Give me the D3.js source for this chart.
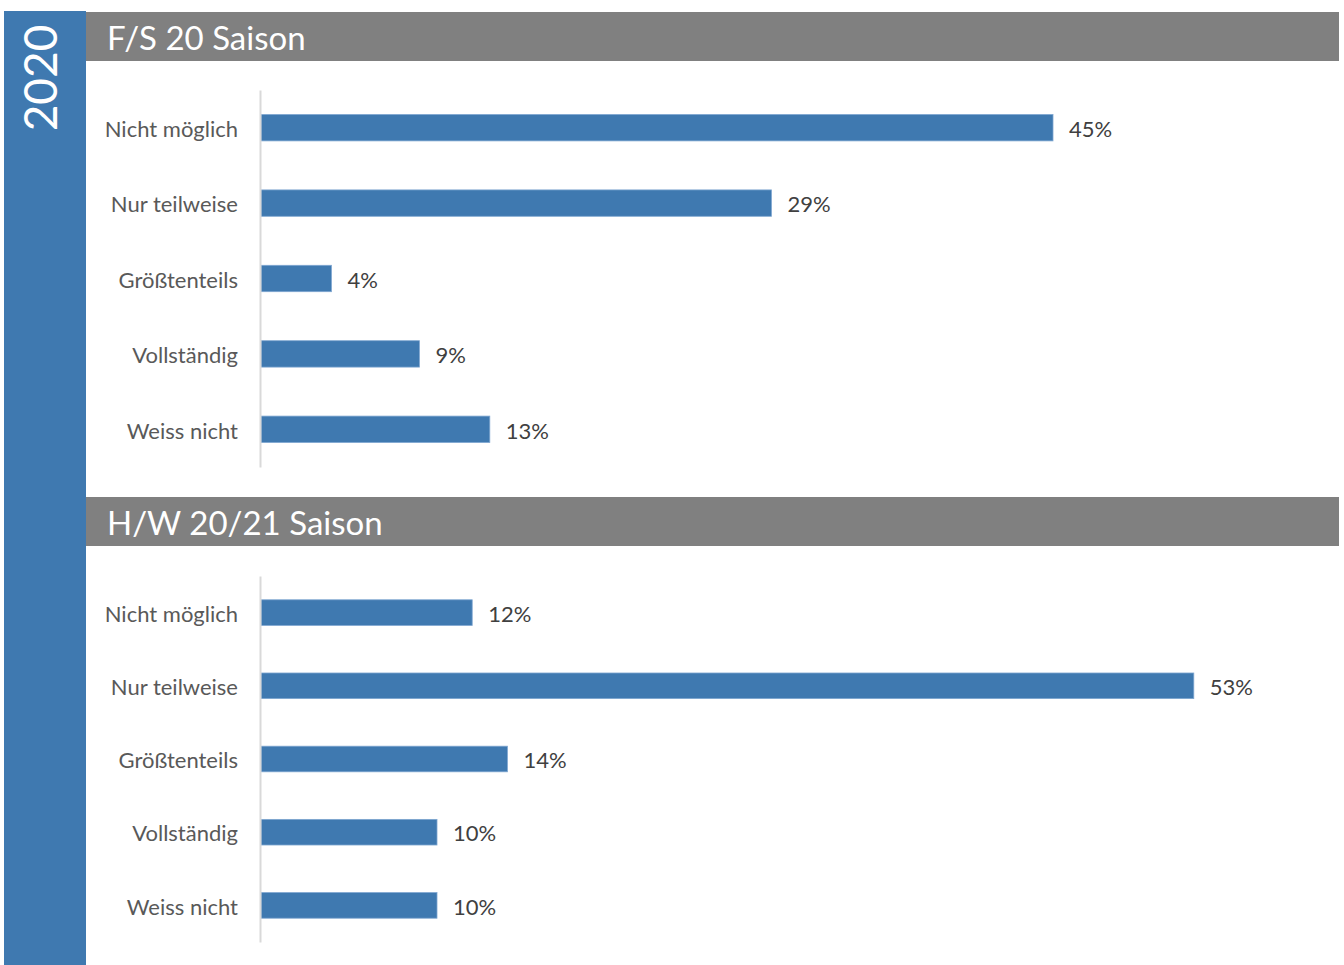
<!DOCTYPE html>
<html>
<head>
<meta charset="utf-8">
<script src="https://cdn.jsdelivr.net/npm/d3@7"></script>
<style>
  html, body { margin: 0; padding: 0; background: #fff; }
  svg { display: block; }
  text { font-family: Lato, "Open Sans", sans-serif; }
</style>
</head>
<body>
<svg id="chart" width="1344" height="965"></svg>
<script>
// Survey answers per season
const categories = ["Nicht möglich", "Nur teilweise", "Größtenteils", "Vollständig", "Weiss nicht"];
const seasonTitles = ["F/S 20 Saison", "H/W 20/21 Saison"];
const valuesFS20 = [45, 29, 4, 9, 13];
const valuesHW2021 = [12, 53, 14, 10, 10];
const yearLabel = "2020";

const svg = d3.select("#chart");
const W = 1344, H = 965;

const blue = "#3f79b0";
const gray = "#808080";

// Left year band
svg.append("rect").attr("x", 4).attr("y", 11).attr("width", 82).attr("height", H - 11).attr("fill", blue);
svg.append("text")
  .attr("transform", "translate(57,78) rotate(-90)")
  .attr("text-anchor", "middle")
  .attr("fill", "#fff")
  .attr("font-size", 46)
  .text(yearLabel);

// Shared value scale
const x = d3.scaleLinear().domain([0, 60]).range([261, 1317]);

const panels = [
  { title: seasonTitles[0], values: valuesFS20, headerY: 12, axisTop: 90, axisBottom: 467 },
  { title: seasonTitles[1], values: valuesHW2021, headerY: 497, axisTop: 576, axisBottom: 942 }
];

panels.forEach(p => {
  const g = svg.append("g");

  // Header strip
  g.append("rect").attr("x", 86).attr("y", p.headerY).attr("width", 1253).attr("height", 49).attr("fill", gray);
  g.append("text")
    .attr("x", 107).attr("y", p.headerY + 38)
    .attr("fill", "#fff")
    .attr("font-size", 33)
    .text(p.title);

  const y = d3.scaleBand()
    .domain(categories)
    .range([p.axisTop, p.axisBottom])
    .paddingInner(0.65)
    .paddingOuter(0.325);

  // Bars
  g.selectAll("rect.bar")
    .data(categories.map((c, i) => ({ c, v: p.values[i] })))
    .join("rect")
    .attr("class", "bar")
    .attr("x", x(0))
    .attr("y", d => y(d.c))
    .attr("width", d => x(d.v) - x(0))
    .attr("height", y.bandwidth())
    .attr("fill", blue)
    .attr("stroke", "#7ea6d0")
    .attr("stroke-width", 0.8);

  // Value labels
  g.selectAll("text.val")
    .data(categories.map((c, i) => ({ c, v: p.values[i] })))
    .join("text")
    .attr("class", "val")
    .attr("x", d => x(d.v) + 16)
    .attr("y", d => y(d.c) + y.bandwidth() / 2)
    .attr("dy", "0.42em")
    .attr("fill", "#404040")
    .attr("font-size", 22)
    .text(d => d.v + "%");

  // Category axis
  const axis = d3.axisLeft(y).tickSize(0).tickPadding(22);
  const ag = g.append("g").attr("transform", `translate(${x(0) - 1},0)`).call(axis);
  ag.select(".domain").attr("stroke", "#d9d9d9").attr("stroke-width", 2);
  ag.selectAll(".tick text")
    .attr("fill", "#595959")
    .attr("font-size", 22)
    .attr("dy", "0.42em")
    .attr("font-family", "Lato, 'Open Sans', sans-serif");
});
</script>
</body>
</html>
